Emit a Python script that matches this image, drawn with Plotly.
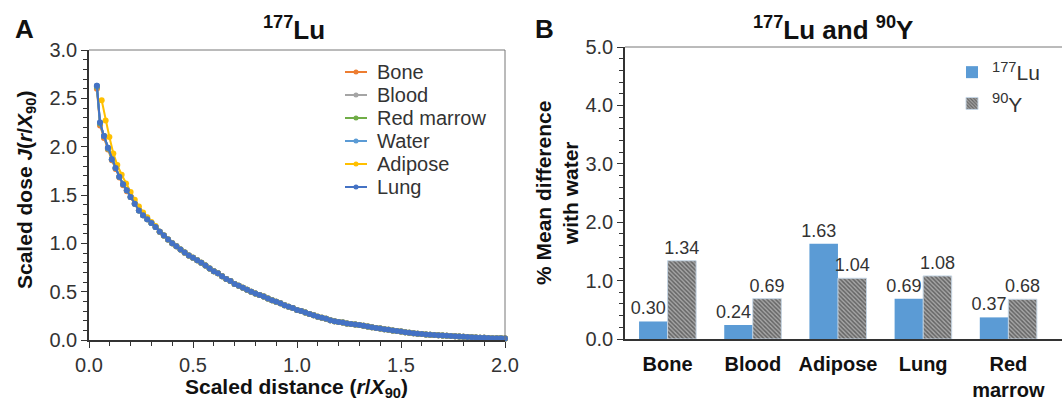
import plotly.graph_objects as go

# ---------------- data: panel A (scaled dose kernels, 177Lu) ----------------
early_x = [0.038, 0.053, 0.072, 0.091, 0.110, 0.128, 0.146, 0.164, 0.182]
tail_x = [0.20, 0.22, 0.24, 0.26, 0.28, 0.30, 0.32, 0.34, 0.36, 0.38,
          0.40, 0.42, 0.44, 0.46, 0.48, 0.50, 0.52, 0.54, 0.56, 0.58,
          0.60, 0.62, 0.64, 0.66, 0.68, 0.70, 0.72, 0.74, 0.76, 0.78,
          0.80, 0.82, 0.84, 0.86, 0.88, 0.90, 0.92, 0.94, 0.96, 0.98,
          1.00, 1.02, 1.04, 1.06, 1.08, 1.10, 1.12, 1.14, 1.16, 1.18,
          1.20, 1.22, 1.24, 1.26, 1.28, 1.30, 1.32, 1.34, 1.36, 1.38,
          1.40, 1.42, 1.44, 1.46, 1.48, 1.50, 1.52, 1.54, 1.56, 1.58,
          1.60, 1.62, 1.64, 1.66, 1.68, 1.70, 1.72, 1.74, 1.76, 1.78,
          1.80, 1.82, 1.84, 1.86, 1.88, 1.90, 1.92, 1.94, 1.96, 1.98,
          2.00]
common_tail = [1.48, 1.41, 1.34, 1.29, 1.25, 1.21, 1.17, 1.12, 1.08, 1.04,
               1.00, 0.97, 0.935, 0.905, 0.875, 0.85, 0.825, 0.80, 0.77, 0.74,
               0.71, 0.69, 0.66, 0.63, 0.61, 0.58, 0.56, 0.54, 0.52, 0.50,
               0.48, 0.465, 0.45, 0.43, 0.41, 0.395, 0.38, 0.36, 0.345, 0.33,
               0.31, 0.30, 0.285, 0.27, 0.255, 0.24, 0.23, 0.22, 0.205, 0.195,
               0.185, 0.18, 0.17, 0.165, 0.16, 0.155, 0.148, 0.14, 0.133, 0.125,
               0.118, 0.112, 0.105, 0.099, 0.093, 0.087, 0.081, 0.075, 0.070, 0.065,
               0.061, 0.058, 0.055, 0.052, 0.049, 0.046, 0.043, 0.041, 0.038, 0.035,
               0.033, 0.031, 0.029, 0.027, 0.024, 0.022, 0.021, 0.019, 0.018, 0.017,
               0.016]

bone_early = [2.60, 2.22, 2.09, 1.97, 1.86, 1.77, 1.68, 1.60, 1.54]
blood_early = [2.62, 2.24, 2.11, 1.98, 1.87, 1.78, 1.69, 1.61, 1.55]
marrow_early = [2.62, 2.24, 2.11, 1.98, 1.87, 1.78, 1.69, 1.61, 1.55]
water_early = [2.63, 2.25, 2.11, 1.99, 1.87, 1.78, 1.69, 1.61, 1.55]
lung_early = [2.63, 2.25, 2.11, 1.99, 1.87, 1.78, 1.69, 1.61, 1.55]

adipose_early_x = [0.061, 0.080, 0.098, 0.117, 0.136, 0.157, 0.178]
adipose_early = [2.48, 2.27, 2.10, 1.93, 1.81, 1.71, 1.62]
adipose_tail_start = [1.53, 1.45, 1.38, 1.32, 1.27, 1.22, 1.18]

series_names = ["Bone", "Blood", "Red marrow", "Water", "Adipose", "Lung"]
series_colors = ["#ED7D31", "#A5A5A5", "#70AD47", "#5B9BD5", "#FFC000", "#4472C4"]

# ---------------- data: panel B (% mean difference with water) ----------------
materials = ["Bone", "Blood", "Adipose", "Lung", "Red marrow"]
material_labels = ["<b>Bone</b>", "<b>Blood</b>", "<b>Adipose</b>", "<b>Lung</b>", "<b>Red<br>marrow</b>"]
lu177_diff = [0.30, 0.24, 1.63, 0.69, 0.37]
y90_diff = [1.34, 0.69, 1.04, 1.08, 0.68]

W, H = 1062, 402
FONT = "Liberation Sans, Arial, Helvetica, sans-serif"
TXT = "#333333"


def px(x):
    return x / W


def py(y):
    return 1 - y / H


series_x = {
    "Bone": early_x + tail_x,
    "Blood": early_x + tail_x,
    "Red marrow": early_x + tail_x,
    "Water": early_x + tail_x,
    "Adipose": adipose_early_x + tail_x,
    "Lung": early_x + tail_x,
}
series_y = {
    "Bone": bone_early + common_tail,
    "Blood": blood_early + common_tail,
    "Red marrow": marrow_early + common_tail,
    "Water": water_early + common_tail,
    "Adipose": adipose_early + adipose_tail_start + common_tail[len(adipose_tail_start):],
    "Lung": lung_early + common_tail,
}

fig = go.Figure()

for name, color in zip(series_names, series_colors):
    fig.add_trace(go.Scatter(
        x=series_x[name], y=series_y[name], mode="lines+markers", name=name,
        line=dict(color=color, width=2), marker=dict(color=color, size=6),
        showlegend=False, xaxis="x", yaxis="y", cliponaxis=False,
    ))

fig.add_trace(go.Bar(
    x=materials, y=lu177_diff, name="<sup>177</sup>Lu", legendgroup="lu",
    marker=dict(color="#5B9BD5", line=dict(width=0)),
    texttemplate="%{y:.2f}\u00a0\u00a0", textposition="outside", constraintext="none",
    textfont=dict(size=18, color=TXT, family=FONT),
    xaxis="x2", yaxis="y2", cliponaxis=False,
))
fig.add_trace(go.Bar(
    x=materials, y=y90_diff, name="<sup>90</sup>Y", legendgroup="y",
    marker=dict(color="#8a8a8a", line=dict(color="#c5d5e4", width=1),
                pattern=dict(shape="\\", fgcolor="#222222", bgcolor="#a6a6a6",
                             size=3, solidity=0.5)),
    texttemplate="%{y:.2f}", textposition="outside", constraintext="none",
    textfont=dict(size=18, color=TXT, family=FONT),
    xaxis="x2", yaxis="y2", cliponaxis=False,
))

axis_common = dict(
    showgrid=False, zeroline=False, showline=True, linecolor="#333333", linewidth=1.5,
    ticks="outside", ticklen=6, tickwidth=1, tickcolor="#333333", automargin=False,
    tickfont=dict(size=20, color=TXT, family=FONT),
)

fig.update_layout(
    width=W, height=H, margin=dict(l=0, r=0, t=0, b=0, autoexpand=False),
    paper_bgcolor="white", plot_bgcolor="white",
    font=dict(family=FONT, color=TXT),
    barmode="group", bargap=0.33, bargroupgap=0,
    xaxis=dict(domain=[px(89), px(505)], range=[0, 2], dtick=0.5, tickformat=".1f",
               anchor="y", minor=dict(dtick=0.1, ticks="outside", ticklen=4, tickcolor="#333333"),
               **axis_common),
    yaxis=dict(domain=[py(340), py(50)], range=[0, 3], dtick=0.5, tickformat=".1f",
               anchor="x", minor=dict(dtick=0.1, ticks="outside", ticklen=4, tickcolor="#333333"),
               **axis_common),
    xaxis2=dict(domain=[px(625), 1.0], range=[-0.5, 4.63], anchor="y2",
                tickvals=materials, ticktext=material_labels, automargin=False,
                showgrid=False, zeroline=False, showline=True, linecolor="#333333", linewidth=2,
                ticks="", ticklabelstandoff=6,
                tickfont=dict(size=20, color="#111111", family=FONT)),
    yaxis2=dict(domain=[py(339), py(47)], range=[0, 5], dtick=1, tickformat=".1f", anchor="x2",
                minor=dict(dtick=0.2, ticks="outside", ticklen=4, tickcolor="#333333"),
                **axis_common),
    legend=dict(x=px(952), y=py(52), xanchor="left", yanchor="top",
                font=dict(size=21, color=TXT, family=FONT), bgcolor="rgba(0,0,0,0)",
                traceorder="grouped", tracegroupgap=1, itemclick=False),
    showlegend=True,
)

shapes = []
# frame lines (top/right of A, top of B)
shapes.append(dict(type="line", xref="x domain", yref="y domain", x0=0, x1=1, y0=1, y1=1,
                   line=dict(color="#777777", width=1)))
shapes.append(dict(type="line", xref="x domain", yref="y domain", x0=1, x1=1, y0=0, y1=1,
                   line=dict(color="#777777", width=1)))
shapes.append(dict(type="line", xref="x2 domain", yref="y2 domain", x0=0, x1=1, y0=1, y1=1,
                   line=dict(color="#777777", width=1)))

annotations = []
# manual legend for panel A
for i, (name, color) in enumerate(zip(series_names, series_colors)):
    yc = 72 + 23 * i
    shapes.append(dict(type="line", xref="paper", yref="paper", x0=px(345), x1=px(367),
                       y0=py(yc), y1=py(yc), line=dict(color=color, width=2)))
    shapes.append(dict(type="circle", xref="paper", yref="paper", x0=px(353.5), x1=px(358.5),
                       y0=py(yc + 2.5), y1=py(yc - 2.5), fillcolor=color, line=dict(width=0)))
    annotations.append(dict(x=px(375), y=py(yc), xref="paper", yref="paper", text=name,
                            showarrow=False, xanchor="left", yanchor="middle",
                            font=dict(size=20, color=TXT, family=FONT)))

annotations += [
    dict(x=px(24), y=py(29), text="<b>A</b>", font=dict(size=26, color="#111111")),
    dict(x=px(544), y=py(29), text="<b>B</b>", font=dict(size=26, color="#111111")),
    dict(x=px(294), y=py(28), text="<b><sup>177</sup>Lu</b>", font=dict(size=26, color="#111111")),
    dict(x=px(833), y=py(28), text="<b><sup>177</sup>Lu and <sup>90</sup>Y</b>",
         font=dict(size=26, color="#111111")),
    dict(x=px(26), y=py(190), text="<b>Scaled dose <i>J</i>(<i>r</i>/<i>X</i><sub>90</sub>)</b>",
         textangle=-90, font=dict(size=21, color="#111111")),
    dict(x=px(296), y=py(388), text="<b>Scaled distance (<i>r</i>/<i>X</i><sub>90</sub>)</b>",
         font=dict(size=21, color="#111111")),
    dict(x=px(557), y=py(193), text="<b>% Mean difference<br>with water</b>",
         textangle=-90, font=dict(size=21, color="#111111")),
]
for a in annotations:
    a.setdefault("xref", "paper")
    a.setdefault("yref", "paper")
    a.setdefault("showarrow", False)
    a.setdefault("xanchor", "center")
    a.setdefault("yanchor", "middle")

fig.update_layout(shapes=shapes, annotations=annotations)

fig.write_html("out.html")
